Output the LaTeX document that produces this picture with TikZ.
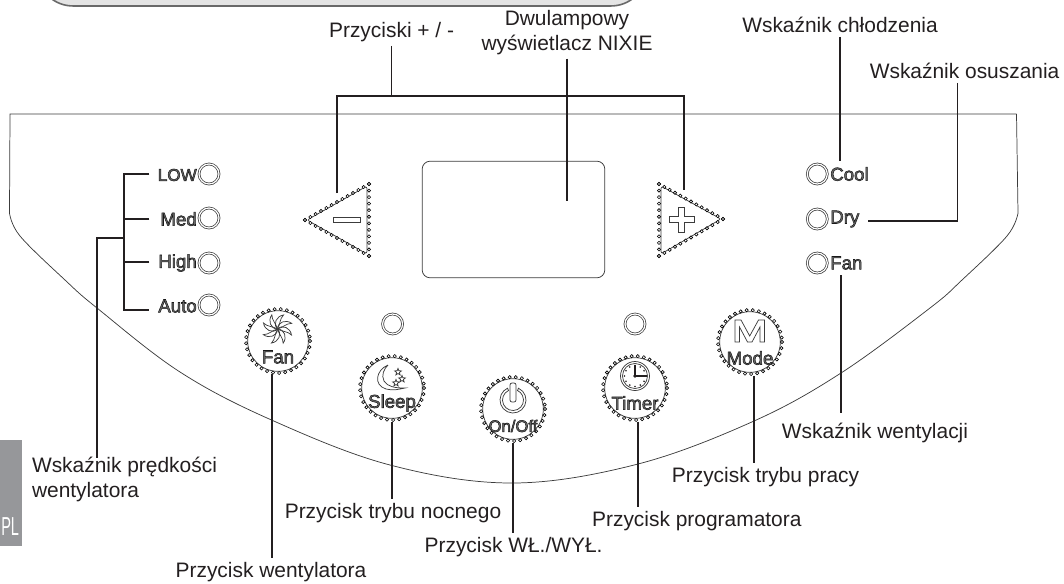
\documentclass[tikz,border=0pt]{standalone}
\usepackage{fontspec}
\setmainfont{Liberation Sans}
\usetikzlibrary{calc}
\definecolor{leadclr}{RGB}{35,31,32}
\definecolor{panelclr}{RGB}{60,60,60}
\definecolor{tabclr}{RGB}{150,151,154}
\definecolor{bannerbg}{RGB}{228,228,228}
\definecolor{bannerln}{RGB}{105,105,105}
\definecolor{keyfill}{RGB}{105,105,105}
\tikzset{
  lead/.style={draw=leadclr, line width=1.3pt},
  thinln/.style={draw=panelclr, line width=0.55pt},
  bead/.style={draw=black, line width=0.45pt, fill=white},
  btn/.style={circle, thinln, minimum size=45.5pt, inner sep=0pt, outer sep=2.6pt},
  lbl/.style={font=\fontsize{15.7}{18.7}\selectfont, text=leadclr, inner sep=0pt, outer sep=3pt, align=center},
  key/.style={font=\fontsize{14}{15}\selectfont, inner sep=0pt},
  ledout/.style={circle, thinln, minimum size=15pt, inner sep=0pt, double=white, double distance=0.9pt}
}
% text with a dark edge and a grey inside
\newcommand{\outtxt}[1]{\color{keyfill}\special{pdf:code 2 Tr 0.4 w 0.1 0.1 0.1 RG}#1\special{pdf:code 0 Tr}}
\newcommand{\beadring}[1]{\foreach \a in {0,11,...,352} \draw[bead] (#1.center) ++(\a:32) circle (1.6);}
\newcommand{\beadline}[3]{\foreach \i in {0,...,#3} \draw[bead] ($(#1)!\i/#3!(#2)$) circle (1.6);}
\begin{document}
\begin{tikzpicture}[x=0.75pt,y=-0.75pt]
  \useasboundingbox (0,0) rectangle (1064,583);
  % banner at the top edge
  \fill[bannerbg] (48,-4) .. controls (56,3) and (64,6) .. (74,6) -- (610,6) .. controls (620,6) and (628,3) .. (636,-4) -- cycle;
  \draw[bannerln, line width=1.2pt] (48,-4) .. controls (56,3) and (64,6) .. (74,6) -- (610,6) .. controls (620,6) and (628,3) .. (636,-4);
  % panel outline
  \draw[thinln] (1016.5,114) -- (10,114) -- (9.5,213)
    plot[smooth,tension=0.6] coordinates {(9.5,213) (20,236) (65,280) (97,308) (180,372) (271.5,420) (390,465)
      (513,483) (638,464) (754,421) (841,373) (930,308) (962,280) (1007,236) (1018,213)}
    -- (1016.5,114);
  % language tab
  \fill[tabclr] (0,440) rectangle (22,546);
  \node[anchor=west, inner sep=0pt, text=white, font=\fontsize{19.5}{20}\selectfont] (tabpl) at (1,527) {\scalebox{.56}[1]{PL}};
  % display
  \node[draw=panelclr, line width=0.55pt, rounded corners=6pt, minimum width=137pt, minimum height=87.5pt, inner sep=0pt] (dispnixie) at (513.5,219.5) {};
  % minus key
  \coordinate (mtip) at (305,220);
  \coordinate (mtop) at (369,184);
  \coordinate (mbot) at (369,256);
  \draw[thinln, rounded corners=2pt] (307,220) -- (367,186) -- (367,254) -- cycle;
  \beadline{mtip}{mtop}{12}
  \beadline{mtip}{mbot}{12}
  \beadline{mtop}{mbot}{11}
  \draw[thinln] (333,217) rectangle (360,222);
  % plus key
  \coordinate (ptip) at (723,219);
  \coordinate (ptop) at (659,184);
  \coordinate (pbot) at (659,256);
  \draw[thinln, rounded corners=2pt] (721,219) -- (661,186) -- (661,254) -- cycle;
  \beadline{ptip}{ptop}{12}
  \beadline{ptip}{pbot}{12}
  \beadline{ptop}{pbot}{11}
  \draw[thinln] (678.6,207) -- (684.6,207) -- (684.6,216) -- (694,216) -- (694,222) -- (684.6,222) -- (684.6,232)
    -- (678.6,232) -- (678.6,222) -- (669,222) -- (669,216) -- (678.6,216) -- cycle;
  % leds
  \node[ledout] (ledlow) at (209,174) {};
  \node[ledout] (ledmed) at (209,218) {};
  \node[ledout] (ledhigh) at (209,263) {};
  \node[ledout] (ledauto) at (209,305) {};
  \node[ledout] (ledcool) at (817.3,174) {};
  \node[ledout] (leddry) at (817.3,219) {};
  \node[ledout] (ledfan) at (817.3,263) {};
  \node[ledout] (ledsleep) at (392.6,324) {};
  \node[ledout] (ledtimer) at (635,324) {};
  % round keys
  \node[btn] (btnfan) at (278,341) {};
  \node[btn] (btnsleep) at (392,388) {};
  \node[btn] (btnonoff) at (513,409) {};
  \node[btn] (btntimer) at (635,388) {};
  \node[btn] (btnmode) at (750,342) {};
  \beadring{btnfan}
  \beadring{btnsleep}
  \beadring{btnonoff}
  \beadring{btntimer}
  \beadring{btnmode}
  % fan icon
  \foreach \a in {0,45,...,315}
    \draw[thinln, shift={(277.5,329)}, rotate=\a] (0,0) .. controls (-5,-5) and (-1,-13) .. (6,-14) .. controls (2,-10) and (3,-5) .. (0,0);
  % moon icon
  \draw[thinln] (388,365) .. controls (376,370) and (373,385) .. (386,389) .. controls (393,391) and (400,389) .. (405,388)
    .. controls (395,388) and (388,387) .. (384,381) .. controls (381,375) and (384,369) .. (388,365);
  \foreach \sx/\sy in {398/372, 402/379, 396/383}
    \draw[thinln, shift={(\sx,\sy)}] (-90:3.6) -- (-54:1.5) -- (-18:3.6) -- (18:1.5) -- (54:3.6) -- (90:1.5) -- (126:3.6) -- (162:1.5) -- (198:3.6) -- (234:1.5) -- cycle;
  % power icon
  \draw[thinln, shift={(513,400)}] (-65:13) arc[start angle=-65, end angle=245, radius=13]
    -- (245:10.5) arc[start angle=245, end angle=-65, radius=10.5] -- cycle;
  \draw[thinln, fill=white, rounded corners=1.5pt] (510,383) rectangle (516,402);
  % clock icon
  \draw[thinln] (635,376) circle (14.5);
  \draw[thinln] (635,376) circle (12.5);
  \foreach \a in {0,30,...,330} \fill[leadclr] (635,376) ++(\a:10.5) circle (0.9);
  \draw[leadclr, line width=0.9pt] (635,365) -- (635,376) -- (647,376);
  \fill[leadclr] (635,376) circle (1.8);
  % M icon
  \draw[thinln] (735,320) -- (741,320) -- (749.7,336) -- (758.5,320) -- (764.4,320) -- (764.4,342) -- (760,342) -- (760,327)
    -- (752,342) -- (747.5,342) -- (739.5,327) -- (739.5,342) -- (735,342) -- cycle;
  % key captions
  \node[key, anchor=east, font=\fontsize{12.8}{15}\selectfont] (txtlow) at (197,175) {\outtxt{LOW}};
  \node[key, anchor=east] (txtmed) at (197,219) {\outtxt{Med}};
  \node[key, anchor=east] (txthigh) at (197,263) {\outtxt{High}};
  \node[key, anchor=east] (txtauto) at (197,306) {\outtxt{Auto}};
  \node[key, anchor=west] (txtcool) at (830,174) {\outtxt{Cool}};
  \node[key, anchor=west] (txtdry) at (830,219) {\outtxt{Dry}};
  \node[key, anchor=west] (txtfanr) at (830,263) {\outtxt{Fan}};
  \node[key] (capfan) at (278,357) {\outtxt{Fan}};
  \node[key] (capsleep) at (392,403) {\outtxt{Sleep}};
  \node[key, font=\fontsize{12.5}{14}\selectfont] (caponoff) at (513,426) {\outtxt{On/Off}};
  \node[key] (captimer) at (635,403) {\outtxt{Timer}};
  \node[key] (capmode) at (750,358) {\outtxt{Mode}};
  % labels
  \node[lbl] (txtkeys) at (391.6,32) {Przyciski + / -};
  \node[lbl] (txtnixie) at (567,32.5) {Dwulampowy\\wyświetlacz NIXIE};
  \node[lbl] (txtcoolind) at (840,25) {Wskaźnik chłodzenia};
  \node[lbl] (txtdryind) at (964.6,71) {Wskaźnik osuszania};
  \node[lbl] (txtfanind) at (875,433) {Wskaźnik wentylacji};
  \node[lbl] (txtmodebtn) at (765.5,477) {Przycisk trybu pracy};
  \node[lbl] (txttimerbtn) at (696.8,521) {Przycisk programatora};
  \node[lbl] (txtonoffbtn) at (513.6,547) {Przycisk WŁ./WYŁ.};
  \node[lbl] (txtsleepbtn) at (393,513) {Przycisk trybu nocnego};
  \node[lbl] (txtfanbtn) at (271,572) {Przycisk wentylatora};
  \node[lbl, anchor=west, align=left] (txtspeed) at (28,479.5) {Wskaźnik prędkości\\wentylatora};
  % leads
  \coordinate (keysl) at (337,96);
  \coordinate (keysr) at (684,96);
  \coordinate (minusend) at (337,193);
  \coordinate (plusend) at (684,190);
  \draw[lead] (minusend) -- (keysl) -- (keysr) -- (plusend);
  \draw[lead] (txtkeys.south) -- (txtkeys.south |- keysl);
  \coordinate (nixieend) at (566.7,201);
  \draw[lead] (txtnixie.south -| nixieend) -- (nixieend);
  \coordinate (coolend) at (840,161);
  \draw[lead] (txtcoolind.south) -- (coolend);
  \coordinate (drybend) at (957.5,220.7);
  \coordinate (dryend) at (868.3,220.7);
  \draw[lead] (txtdryind.south -| drybend) -- (drybend) -- (dryend);
  \coordinate (fanend) at (841,413);
  \draw[lead, shorten <=4pt] (txtfanr.south -| fanend) -- (fanend);
  \coordinate (spdbar) at (124,238.3);
  \coordinate (spdlow) at (149.3,174);
  \coordinate (spdmed) at (149.3,219.3);
  \coordinate (spdhigh) at (149.3,261.7);
  \coordinate (spdauto) at (149.3,310);
  \coordinate (spdend) at (96.7,458);
  \draw[lead] (spdlow) -- (spdlow -| spdbar) -- (spdauto -| spdbar) -- (spdauto);
  \foreach \nm in {med,high} \draw[lead] (spd\nm) -- (spd\nm -| spdbar);
  \draw[lead] (spdbar) -| (spdend);
  \draw[lead] (btnfan.260) -- (btnfan.260 |- txtfanbtn.north);
  \draw[lead] (btnsleep.south) -- (btnsleep.south |- txtsleepbtn.north);
  \draw[lead] (btnonoff.south) -- (btnonoff.south |- txtonoffbtn.north);
  \draw[lead] (btntimer.-85) -- (btntimer.-85 |- txttimerbtn.north);
  \draw[lead] (btnmode.-83) -- (btnmode.-83 |- txtmodebtn.north);
\end{tikzpicture}
\end{document}
